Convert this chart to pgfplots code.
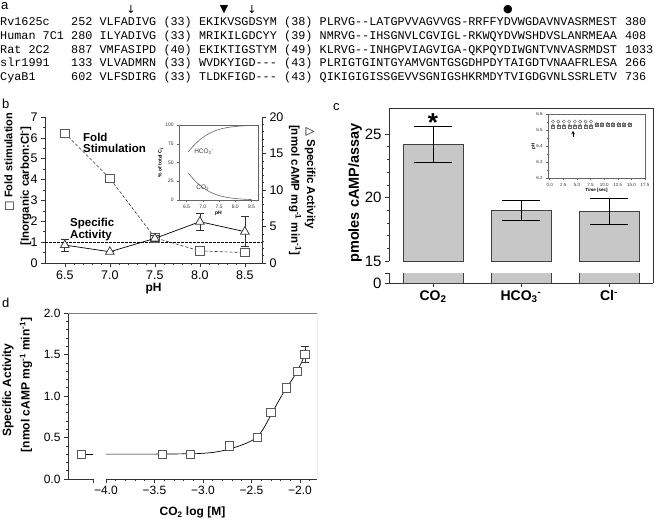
\documentclass[border=0pt]{standalone}
\usepackage{fontspec}
\setmainfont{Liberation Sans}
\setmonofont{Liberation Mono}
\newfontfamily\sym{DejaVu Sans}
\usepackage{pgfplots}
\pgfplotsset{compat=1.18}
\newcommand\seqrow[9]{%
 \node[anchor=base west, inner sep=0, font=\fontsize{11.8}{12}\ttfamily] at (0pt,-#1pt) {#2};
 \node[anchor=base west, inner sep=0, font=\fontsize{11.8}{12}\ttfamily] at (71pt,-#1pt) {#3};
 \node[anchor=base west, inner sep=0, font=\fontsize{11.8}{12}\ttfamily] at (99.4pt,-#1pt) {#4};
 \node[anchor=base west, inner sep=0, font=\fontsize{11.8}{12}\ttfamily] at (163.3pt,-#1pt) {#5};
 \node[anchor=base west, inner sep=0, font=\fontsize{11.8}{12}\ttfamily] at (198.8pt,-#1pt) {#6};
 \node[anchor=base west, inner sep=0, font=\fontsize{11.8}{12}\ttfamily] at (284pt,-#1pt) {#7};
 \node[anchor=base west, inner sep=0, font=\fontsize{11.8}{12}\ttfamily] at (319.5pt,-#1pt) {#8};
 \node[anchor=base west, inner sep=0, font=\fontsize{11.8}{12}\ttfamily] at (624.8pt,-#1pt) {#9};
}
\begin{document}
\begin{tikzpicture}
\useasboundingbox (0,0) rectangle (656pt,-520pt);
\pgfplotsset{every axis/.append style={scale only axis, anchor=south west,
  /pgf/number format/assume math mode=true, tick align=outside,
  axis line style={black!80, line width=0.7pt},
  every tick/.style={black!80, line width=0.6pt},
  major tick length=4pt, minor tick length=2pt}}

% ---------------- panel a ----------------
\node[anchor=base west, inner sep=0, font=\fontsize{13}{13}\selectfont] at (1pt,-9pt) {a};
\node[font=\sym\fontsize{11}{11}\selectfont, inner sep=0] at (131pt,-10pt) {↓};
\node[font=\sym\fontsize{11}{11}\selectfont, inner sep=0] at (224pt,-10pt) {▼};
\node[font=\sym\fontsize{11}{11}\selectfont, inner sep=0] at (252pt,-10pt) {↓};
\node[font=\sym\fontsize{11}{11}\selectfont, inner sep=0] at (508pt,-10pt) {●};
\seqrow{25}{Rv1625c}{252}{VLFADIVG}{(33)}{EKIKVSGDSYM}{(38)}{PLRVG--LATGPVVAGVVGS-RRFFYDVWGDAVNVASRMEST}{380}
\seqrow{39}{Human 7C1}{280}{ILYADIVG}{(33)}{MRIKILGDCYY}{(39)}{NMRVG--IHSGNVLCGVIGL-RKWQYDVWSHDVSLANRMEAA}{408}
\seqrow{53}{Rat 2C2}{887}{VMFASIPD}{(40)}{EKIKTIGSTYM}{(49)}{KLRVG--INHGPVIAGVIGA-QKPQYDIWGNTVNVASRMDST}{1033}
\seqrow{66}{slr1991}{133}{VLVADMRN}{(33)}{WVDKYIGD---}{(43)}{PLRIGTGINTGYAMVGNTGSGDHPDYTAIGDTVNAAFRLESA}{266}
\seqrow{80}{CyaB1}{602}{VLFSDIRG}{(33)}{TLDKFIGD---}{(43)}{QIKIGIGISSGEVVSGNIGSHKRMDYTVIGDGVNLSSRLETV}{736}

% ---------------- panel b ----------------
\node[anchor=base west, inner sep=0, font=\fontsize{13}{13}\selectfont] at (2pt,-108pt) {b};
\begin{axis}[at={(45pt,-263pt)}, width=217pt, height=146pt,
  xmin=6.28, xmax=8.69, ymin=0, ymax=7,
  axis x line*=bottom, axis y line*=left,
  xtick={6.5,7,7.5,8,8.5}, xticklabels={6.5,7.0,7.5,8.0,8.5}, minor x tick num=4,
  ytick={0,1,...,7}, minor y tick num=1,
  ticklabel style={font=\fontsize{12.5}{13}\selectfont},
  xlabel={pH}, xlabel style={font=\fontsize{12}{13}\bfseries, yshift=3pt}]
\addplot[black, line width=0.6pt, dash pattern=on 2.5pt off 1.5pt] coordinates {(6.28,1) (8.69,1)};
\addplot[black!80, line width=0.6pt, densely dashed, mark=square*,
  mark options={solid, fill=white, draw=black!65, line width=0.8pt}, mark size=4.3pt]
  coordinates {(6.5,6.22) (7.0,4.06) (7.5,1.21) (8.0,0.58) (8.5,0.50)};
\end{axis}
\begin{axis}[at={(45pt,-263pt)}, width=217pt, height=146pt,
  xmin=6.28, xmax=8.69, ymin=0, ymax=20,
  axis x line=none, axis y line*=right,
  ytick={0,5,...,20}, minor y tick num=4,
  ticklabel style={font=\fontsize{12.5}{13}\selectfont}]
\addplot[black, line width=0.7pt, mark=triangle*,
  mark options={fill=white, draw=black!75, line width=0.8pt}, mark size=5pt,
  error bars/.cd, y dir=both, y explicit,
  error bar style={black!80, line width=0.7pt},
  error mark options={rotate=90, mark size=4pt, black!80, line width=0.7pt}]
  coordinates {(6.5,2.46) +- (0,0.8) (7.0,1.54) +- (0,0) (7.5,3.37) +- (0,0.4) (8.0,5.66) +- (0,1.14) (8.5,4.29) +- (0,2.06)};
\end{axis}
\node[rotate=90, font=\fontsize{11}{13}\bfseries] at (9pt,-162pt) {{\sym\mdseries □} Fold stimulation};
\node[rotate=90, font=\fontsize{11.5}{13}\bfseries] at (26pt,-186pt) {{[}Inorganic carbon:Cl\textsuperscript{-}{]}};
\node[rotate=-90, font=\fontsize{11.5}{13}\bfseries] at (310pt,-178pt) {{\sym\mdseries △} Specific Activity};
\node[rotate=-90, font=\fontsize{11.5}{13}\bfseries] at (295pt,-190pt) {{[}nmol cAMP mg\textsuperscript{-1} min\textsuperscript{-1}{]}};
\node[anchor=west, inner sep=0, font=\fontsize{11.5}{13}\bfseries] at (83pt,-137.5pt) {Fold};
\node[anchor=west, inner sep=0, font=\fontsize{11.5}{13}\bfseries] at (83pt,-148pt) {Stimulation};
\node[anchor=west, inner sep=0, font=\fontsize{11.5}{13}\bfseries] at (70pt,-224pt) {Specific};
\node[anchor=west, inner sep=0, font=\fontsize{11.5}{13}\bfseries] at (70pt,-236pt) {Activity};
% inset b
\begin{axis}[at={(179pt,-200pt)}, width=79pt, height=75pt,
  xmin=6.27, xmax=8.7, ymin=0, ymax=100,
  axis line style={black!60, line width=0.5pt},
  every tick/.style={black!60, line width=0.4pt},
  major tick length=1.8pt, minor tick length=1pt,
  xtick pos=left, ytick pos=left,
  xtick={6.5,7,7.5,8,8.5}, xticklabels={6.5,7.0,7.5,8.0,8.5}, minor x tick num=4,
  ytick={0,25,50,75,100},
  ticklabel style={font=\fontsize{5}{5}\selectfont, black!80},
  xlabel={pH}, xlabel style={font=\fontsize{5}{5}\bfseries, yshift=5pt},
  ylabel={\% of total C\textsubscript{i}}, ylabel style={font=\fontsize{5}{5}\bfseries, yshift=-5pt}]
\addplot[black!60, line width=0.6pt, smooth] coordinates {(6.55,64.0) (6.7,71.5) (6.85,78.0) (7.0,83.4) (7.2,88.8) (7.4,92.6) (7.6,95.2) (7.8,96.9) (8.0,98.0) (8.25,98.9) (8.5,99.4)};
\addplot[black!60, line width=0.6pt, smooth] coordinates {(6.55,36.0) (6.7,28.5) (6.85,22.0) (7.0,16.6) (7.2,11.2) (7.4,7.4) (7.6,4.8) (7.8,3.1) (8.0,2.0) (8.25,1.1) (8.5,0.6)};
\node[font=\fontsize{6.5}{6.5}\selectfont, black!75] at (axis cs:7.04,64) {HCO\textsubscript{3}\textsuperscript{-}};
\node[font=\fontsize{6.5}{6.5}\selectfont, black!75] at (axis cs:7.0,16) {CO\textsubscript{2}};
\end{axis}

% ---------------- panel c ----------------
\node[anchor=base west, inner sep=0, font=\fontsize{13}{13}\selectfont] at (333pt,-110pt) {c};
\begin{axis}[at={(389pt,-261pt)}, width=264pt, height=153pt,
  xmin=-0.5, xmax=2.5, ymin=15, ymax=27.05,
  axis x line=none, axis y line*=left,
  ytick={15,20,25}, minor y tick num=4,
  ticklabel style={font=\fontsize{15}{15}\selectfont}]
\addplot[ybar, bar width=60pt, fill=black!22, draw=black!75, line width=0.7pt,
  error bars/.cd, y dir=both, y explicit,
  error bar style={black, line width=0.9pt},
  error mark options={rotate=90, mark size=19pt, black, line width=0.9pt}]
  coordinates {(0,24.2) +- (0,1.4) (1,19.0) +- (0,0.8) (2,18.9) +- (0,1.0)};
\node[anchor=north, inner sep=0, font=\fontsize{26}{26}\bfseries] at (axis cs:0,26.66) {*};
\end{axis}
\begin{axis}[at={(389pt,-283pt)}, width=264pt, height=10pt,
  xmin=-0.5, xmax=2.5, ymin=0, ymax=0.8,
  axis x line*=bottom, axis y line*=left,
  ytick={0,0.8}, yticklabels={0,{}},
  xtick={0,1,2}, xticklabels={CO\textsubscript{2}, HCO\textsubscript{3}\textsuperscript{-}, Cl\textsuperscript{-}},
  ticklabel style={font=\fontsize{15}{15}\selectfont},
  xticklabel style={font=\fontsize{14}{14}\bfseries}]
\addplot[ybar, bar width=60pt, fill=black!22, draw=black!75, line width=0.7pt]
  coordinates {(0,24.2) (1,19.0) (2,18.9)};
\end{axis}
\draw[black!80, line width=0.8pt] (389pt,-108pt) -- (653pt,-108pt) -- (653pt,-283pt);
\node[rotate=90, font=\fontsize{14.5}{15}\bfseries] at (355pt,-193pt) {pmoles cAMP/assay};
% inset c
\begin{axis}[at={(548pt,-178pt)}, width=97pt, height=64pt,
  xmin=-0.3, xmax=17.5, ymin=6.2, ymax=6.6,
  axis line style={black!60, line width=0.5pt},
  every tick/.style={black!60, line width=0.4pt},
  major tick length=1.8pt, minor tick length=1pt,
  xtick pos=left, ytick pos=left,
  xtick={0,2.5,5,7.5,10,12.5,15,17.5}, xticklabels={0.0,2.5,5.0,7.5,10.0,12.5,15.0,17.5}, minor x tick num=4,
  ytick={6.2,6.3,6.4,6.5,6.6}, yticklabels={6.2,6.3,6.4,6.5,6.6}, minor y tick num=1,
  ticklabel style={font=\fontsize{4.5}{5}\selectfont, black!80},
  xlabel={Time [sec]}, xlabel style={font=\fontsize{4.5}{5}\bfseries, yshift=5pt},
  ylabel={pH}, ylabel style={font=\fontsize{4.5}{5}\bfseries, yshift=-6pt}]
\addplot[only marks, mark=o, mark size=1.6pt, black!60, line width=0.4pt] coordinates {(0.6,6.553) (1.6,6.553) (2.6,6.553) (3.6,6.553) (4.6,6.553) (5.6,6.553) (6.6,6.553) (7.6,6.553) (8.6,6.535) (9.6,6.535) (10.6,6.535) (11.6,6.535) (12.6,6.535) (13.6,6.535) (14.6,6.535)};
\addplot[only marks, mark=square, mark size=1.5pt, black!60, line width=0.4pt] coordinates {(0.6,6.52) (1.6,6.52) (2.6,6.52) (3.6,6.52) (4.6,6.52) (5.6,6.52) (6.6,6.52) (7.6,6.52) (8.6,6.532) (9.6,6.532) (10.6,6.532) (11.6,6.532) (12.6,6.532) (13.6,6.532) (14.6,6.532)};
\addplot[only marks, mark=triangle, mark size=1.6pt, black!60, line width=0.4pt] coordinates {(0.6,6.528) (1.6,6.528) (2.6,6.528) (3.6,6.528) (4.6,6.528) (5.6,6.528) (6.6,6.528) (7.6,6.528) (8.6,6.537) (9.6,6.537) (10.6,6.537) (11.6,6.537) (12.6,6.537) (13.6,6.537) (14.6,6.537)};
\draw[-stealth, black, line width=0.6pt] (axis cs:4.3,6.455) -- (axis cs:4.3,6.495);
\end{axis}

% ---------------- panel d ----------------
\node[anchor=base west, inner sep=0, font=\fontsize{13}{13}\selectfont] at (2pt,-307pt) {d};
\begin{axis}[at={(68pt,-479pt)}, width=249pt, height=166pt,
  xmin=-4.39, xmax=-1.825, ymin=0, ymax=2,
  axis x line*=bottom, axis y line*=left,
  x axis line style={draw=none},
  xtick={-4,-3.5,-3,-2.5,-2}, xticklabels={−4.0,−3.5,−3.0,−2.5,−2.0},
  minor xtick={-3.9,-3.8,-3.7,-3.6,-3.4,-3.3,-3.2,-3.1,-2.9,-2.8,-2.7,-2.6,-2.4,-2.3,-2.2,-2.1,-1.9},
  extra x ticks={-4.134}, extra x tick labels={},
  ytick={0,0.5,1,1.5,2}, yticklabels={0.0,0.5,1.0,1.5,2.0}, minor y tick num=4,
  ticklabel style={font=\fontsize{12}{13}\selectfont},
  xlabel={CO\textsubscript{2} log [M]}, xlabel style={font=\fontsize{12}{13}\bfseries, yshift=3pt}]
\draw[black!80, line width=0.7pt] (axis cs:-4.39,0) -- (axis cs:-4.134,0);
\draw[black!80, line width=0.7pt] (axis cs:-4.0,0) -- (axis cs:-1.825,0);
\draw[black!50, line width=0.7pt] (rel axis cs:0,1) -- (rel axis cs:1,1) -- (rel axis cs:1,0);
\addplot[black, line width=0.7pt] coordinates {(-4.25,0.3) (-4.134,0.3)};
\addplot[black, line width=0.7pt, smooth] coordinates {(-4.0,0.30) (-3.5,0.30) (-3.1,0.305) (-3.0,0.31) (-2.9,0.32) (-2.8,0.34) (-2.7,0.37) (-2.6,0.41) (-2.5,0.46) (-2.44,0.51) (-2.38,0.6) (-2.3,0.77) (-2.22,0.94) (-2.14,1.1) (-2.08,1.2) (-2.03,1.3) (-1.99,1.39) (-1.95,1.5)};
\addplot[only marks, mark=square*, mark options={fill=white, draw=black!65, line width=0.8pt}, mark size=4.2pt,
  error bars/.cd, y dir=both, y explicit,
  error bar style={black!80, line width=0.7pt},
  error mark options={rotate=90, mark size=4pt, black!80, line width=0.7pt}]
  coordinates {(-4.25,0.3) +- (0,0) (-3.42,0.3) +- (0,0) (-3.13,0.3) +- (0,0) (-2.73,0.4) +- (0,0) (-2.44,0.5) +- (0,0) (-2.30,0.8) +- (0,0) (-2.14,1.1) +- (0,0) (-2.03,1.3) +- (0,0) (-1.95,1.5) +- (0,0.1)};
\end{axis}
\node[rotate=90, font=\fontsize{12}{13}\bfseries] at (8pt,-390pt) {Specific Activity};
\node[rotate=90, font=\fontsize{12}{13}\bfseries] at (26pt,-385pt) {{[}nmol cAMP mg\textsuperscript{-1} min\textsuperscript{-1}{]}};
\end{tikzpicture}
\end{document}
